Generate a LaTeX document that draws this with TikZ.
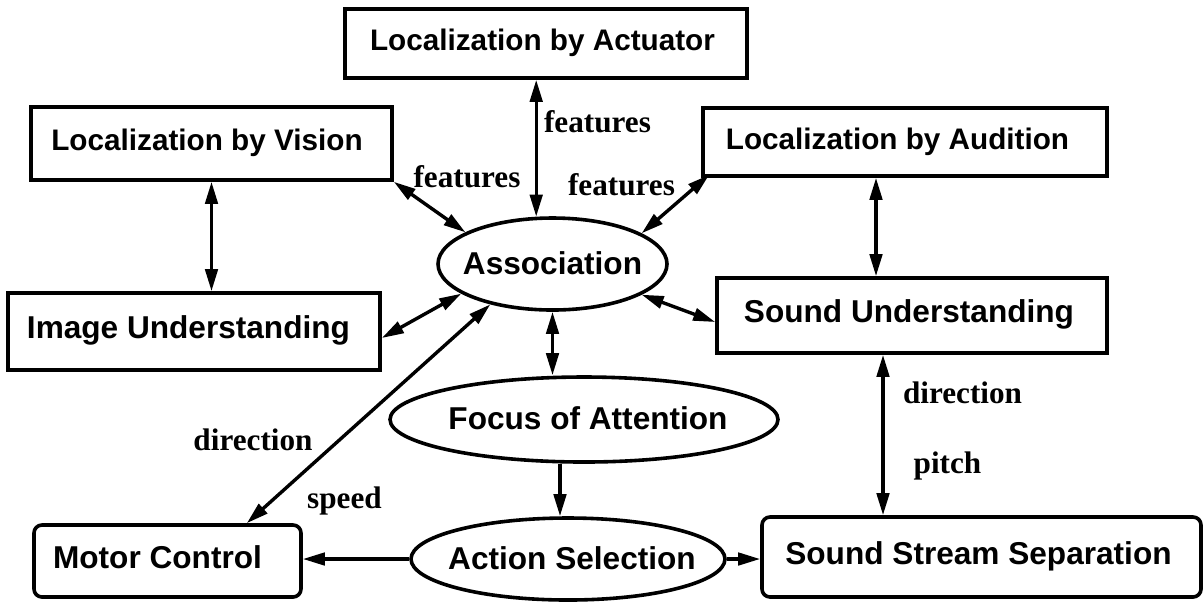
\documentclass[tikz,border=0pt]{standalone}
\usepackage{fontspec}
\setmainfont{Liberation Serif}
\setsansfont{Liberation Sans}
\usetikzlibrary{arrows.meta,shapes.geometric,calc}

\begin{document}
\begin{tikzpicture}[x=0.5pt,y=-0.5pt,
  >={Triangle[length=11pt,width=6.2pt]},
  link/.style={line width=1.7pt,<->},
  flow/.style={line width=1.7pt,->},
  module/.style={draw,line width=1.8pt,rectangle,inner sep=0pt,
    font=\sffamily\bfseries\fontsize{15.8}{18}\selectfont,
    text height=0.72em,text depth=0pt},
  locbox/.style={module,font=\sffamily\bfseries\fontsize{14.85}{18}\selectfont},
  roundbox/.style={module,rounded corners=4pt},
  process/.style={draw,ellipse,line width=1.8pt,inner sep=0pt,
    font=\sffamily\bfseries\fontsize{15.8}{18}\selectfont,
    text height=1em,text depth=0pt},
  lab/.style={anchor=base,inner sep=0pt,
    font=\rmfamily\bfseries\fontsize{15.6}{18}\selectfont}]

\useasboundingbox (0,0) rectangle (1204,602);

% modules
\node[locbox,minimum width=201pt,minimum height=34.5pt] (lact) at (546,43.5)
  {Localization by Actuator\hspace*{3.5pt}};
\node[locbox,minimum width=180.5pt,minimum height=36.5pt] (lvis) at (211.5,143.5)
  {Localization by Vision\hspace*{4.5pt}};
\node[locbox,minimum width=202pt,minimum height=34pt] (laud) at (905,142)
  {Localization by Audition\hspace*{7.5pt}};
\node[module,minimum width=186pt,minimum height=38.5pt] (img) at (194,331.5)
  {Image Understanding\hspace*{5.5pt}};
\node[module,minimum width=195pt,minimum height=37.5pt] (snd) at (912,315.5)
  {Sound Understanding\hspace*{3pt}};
\node[roundbox,minimum width=133.5pt,minimum height=36pt] (mot) at (167.5,561)
  {Motor Control\hspace*{10pt}};
\node[roundbox,minimum width=219.5pt,minimum height=40pt] (sss) at (981.5,557)
  {Sound Stream Separation\hspace*{3pt}};

% processes
\node[process,minimum width=114.5pt,minimum height=46pt] (assoc) at (552.5,264)
  {\makebox[0pt]{Association}};
\node[process,minimum width=194pt,minimum height=42.5pt] (foc) at (584,419.5)
  {\makebox[0pt]{\hspace*{4pt}Focus of Attention}};
\node[process,minimum width=157pt,minimum height=41pt] (sel) at (568,559)
  {\makebox[0pt]{\hspace*{4pt}Action Selection}};

% helper points for the vertical links
\coordinate (audx) at ($(laud.south)+(-29,0)$);
\coordinate (sndx) at ($(snd.south)+(-29,0)$);
\coordinate (selx) at ($(sel.north)+(-8,0)$);

% links
\draw[link] (lvis.south) -- (lvis.south |- img.north);
\draw[link] (lvis.south east) -- (assoc.160);
\draw[link] (lact.south -| assoc.109.7) -- (assoc.109.7);
\draw[link] ($(laud.south west)+(8,-3)$) -- (assoc.19.5);
\draw[link] (audx) -- (audx |- snd.north);
\draw[link] (sndx) -- (sndx |- sss.north);
\draw[link] (assoc.198) -- ($(img.east)+(0,6.5)$);
\draw[link] (assoc.-19) -- ($(snd.west)+(0,6.5)$);
\draw[link] (assoc.213) -- ($(mot.north east)+(-56,0)$);
\draw[link] (assoc.south) -- (assoc.south |- foc.north);
\draw[flow] (foc.south -| selx) -- (selx);
\draw[flow] (sel.west) -- (sel.west -| mot.east);
\draw[flow] (sel.east) -- (sel.east -| sss.west);

% link labels
\node[lab] (fvis) at (467,187) {features};
\node[lab] (fact) at (597.5,132) {features};
\node[lab] (faud) at (621.5,195) {features};
\node[lab] (dmot) at (253,450) {direction};
\node[lab] (smot) at (344.5,508) {speed};
\node[lab] (dsnd) at (962.5,403) {direction};
\node[lab] (psnd) at (947.5,473) {pitch};

\end{tikzpicture}
\end{document}
